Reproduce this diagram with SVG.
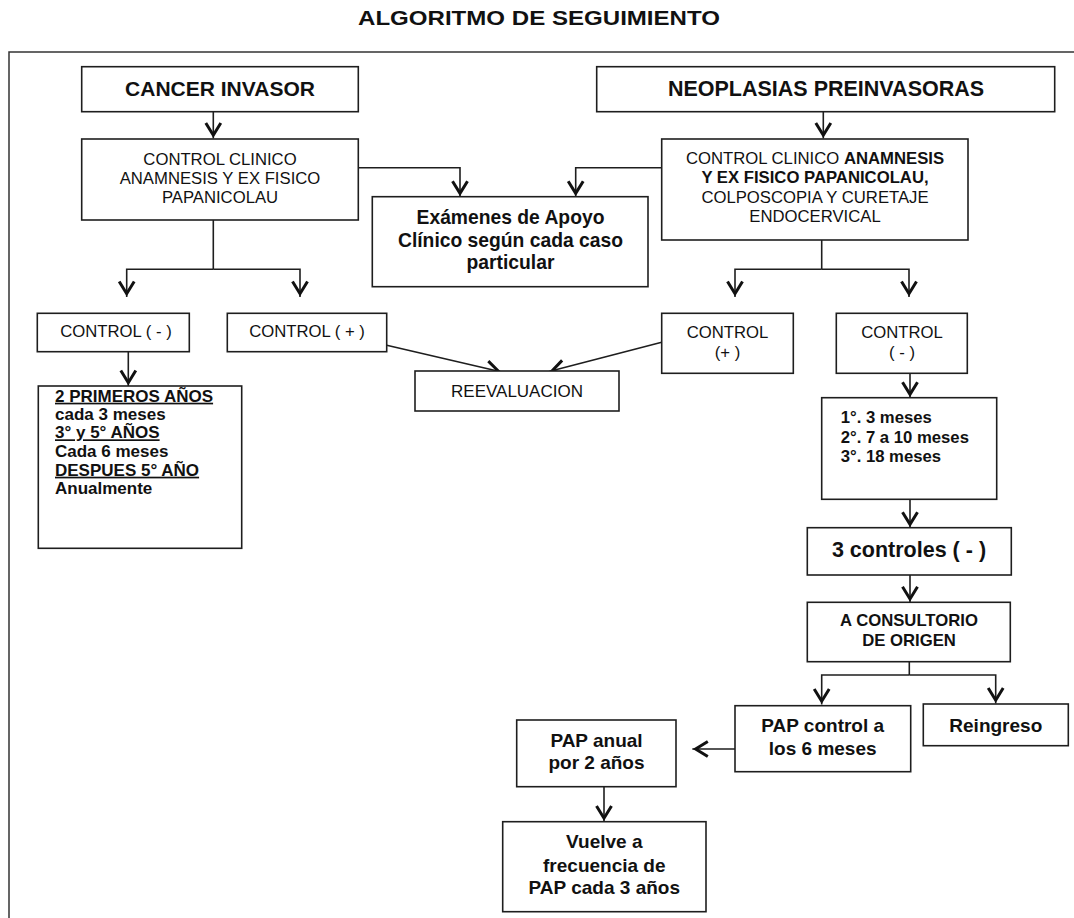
<svg xmlns="http://www.w3.org/2000/svg" width="1074" height="918" viewBox="0 0 1074 918">
<style>
text{font-family:"Liberation Sans",Arial,sans-serif;fill:#111;}
.c{text-anchor:middle;}
.b{font-weight:bold;}
.box{fill:#fff;stroke:#1e1e1e;stroke-width:1.6;}
.ln{fill:none;stroke:#1e1e1e;stroke-width:1.6;}
.ar{marker-end:url(#ah);}
.u{text-decoration:underline;}
</style>
<defs>
<marker id="ah" markerUnits="userSpaceOnUse" viewBox="-20 -10 22 20" refX="0" refY="0" markerWidth="22" markerHeight="20" orient="auto">
<path d="M-15.5,-7.5 L-3.3,0 L-15.5,7.5" fill="none" stroke="#111" stroke-width="3" stroke-linejoin="miter" stroke-miterlimit="10"/>
</marker>
</defs>
<rect width="1074" height="918" fill="#fff"/>
<text id="title" x="539" y="24.5" class="c b" font-size="20.5" textLength="362" lengthAdjust="spacingAndGlyphs">ALGORITMO DE SEGUIMIENTO</text>
<path id="frame" d="M9,918 V52 H1074" fill="none" stroke="#333" stroke-width="1.5"/>

<g id="connectors">
<path class="ln ar" d="M213.3,111.7 V138.5"/>
<path class="ln ar" d="M823.3,111.7 V138.5"/>
<path class="ln ar" d="M358.3,167.7 H460 V196.7"/>
<path class="ln ar" d="M661.7,167.7 H575.7 V196.7"/>
<path class="ln" d="M213.3,220 V269.3"/>
<path class="ln ar" d="M213.3,269.3 H126.7 V297"/>
<path class="ln ar" d="M213.3,269.3 H300 V297"/>
<path class="ln" d="M821.7,240 V269.3"/>
<path class="ln ar" d="M821.7,269.3 H735 V297"/>
<path class="ln ar" d="M821.7,269.3 H909 V297"/>
<path class="ln ar" d="M371.7,341.7 L501.7,372"/>
<path class="ln ar" d="M661.7,342.3 L549,371.5"/>
<path class="ln ar" d="M128.3,351.7 V386"/>
<path class="ln ar" d="M910,373.3 V397.7"/>
<path class="ln ar" d="M910,499.3 V527.7"/>
<path class="ln ar" d="M910,575 V602.3"/>
<path class="ln" d="M909.3,661.7 V675"/>
<path class="ln ar" d="M909.3,675 H821.7 V704.5"/>
<path class="ln ar" d="M909.3,675 H995.7 V703.5"/>
<path class="ln ar" d="M735,749 H692.3"/>
<path class="ln ar" d="M604,786.7 V821.5"/>
</g>

<g id="cancer-invasor">
<rect class="box" x="81.7" y="66.7" width="276.6" height="45"/>
<text x="220" y="96" class="c b" font-size="21">CANCER INVASOR</text>
</g>

<g id="neoplasias">
<rect class="box" x="596.7" y="66.7" width="458" height="45"/>
<text x="826" y="96" class="c b" font-size="21.5">NEOPLASIAS PREINVASORAS</text>
</g>

<g id="control-clinico-izq">
<rect class="box" x="81.7" y="139" width="276.6" height="81"/>
<text x="220" y="165" class="c" font-size="16.7">CONTROL CLINICO</text>
<text x="220" y="184" class="c" font-size="16.7">ANAMNESIS Y EX FISICO</text>
<text x="220" y="203.3" class="c" font-size="16.7">PAPANICOLAU</text>
</g>

<g id="control-clinico-der">
<rect class="box" x="661.7" y="139" width="306.3" height="101"/>
<text x="815" y="164" class="c" font-size="16.7">CONTROL CLINICO <tspan class="b">ANAMNESIS</tspan></text>
<text x="815" y="183.3" class="c b" font-size="16.7">Y EX FISICO PAPANICOLAU,</text>
<text x="815" y="203.3" class="c" font-size="16.7">COLPOSCOPIA Y CURETAJE</text>
<text x="815" y="221.7" class="c" font-size="16.7">ENDOCERVICAL</text>
</g>

<g id="examenes">
<rect class="box" x="372.3" y="196.7" width="275.7" height="90"/>
<text x="510.5" y="224" class="c b" font-size="19.3">Exámenes de Apoyo</text>
<text x="510.5" y="246.5" class="c b" font-size="19.3">Clínico según cada caso</text>
<text x="510.5" y="269" class="c b" font-size="19.3">particular</text>
</g>

<g id="control-neg-izq">
<rect class="box" x="37.3" y="313.3" width="152" height="38.4"/>
<text x="116" y="337.3" class="c" font-size="16.7">CONTROL ( - )</text>
</g>

<g id="control-pos-izq">
<rect class="box" x="227.3" y="313.3" width="159.4" height="38.4"/>
<text x="307" y="337.3" class="c" font-size="16.7">CONTROL ( + )</text>
</g>

<g id="reevaluacion">
<rect class="box" x="415" y="371" width="204" height="40"/>
<text x="517" y="397" class="c" font-size="17">REEVALUACION</text>
</g>

<g id="control-pos-der">
<rect class="box" x="661.7" y="313.3" width="131.6" height="60"/>
<text x="727.5" y="338.3" class="c" font-size="16.7">CONTROL</text>
<text x="727.5" y="358.3" class="c" font-size="16.7">(+ )</text>
</g>

<g id="control-neg-der">
<rect class="box" x="836.3" y="313.3" width="131" height="60"/>
<text x="902" y="338.3" class="c" font-size="16.7">CONTROL</text>
<text x="902" y="358.3" class="c" font-size="16.7">( - )</text>
</g>

<g id="frecuencia-invasor">
<rect class="box" x="38.3" y="386" width="203.4" height="162.3"/>
<text x="55" y="401.7" class="b u" font-size="17">2 PRIMEROS AÑOS</text>
<text x="55" y="420" class="b" font-size="17">cada 3 meses</text>
<text x="55" y="438.3" class="b u" font-size="17">3° y 5° AÑOS</text>
<text x="55" y="457.3" class="b" font-size="17">Cada 6 meses</text>
<text x="55" y="475.7" class="b u" font-size="17">DESPUES 5° AÑO</text>
<text x="55" y="494" class="b" font-size="17">Anualmente</text>
</g>

<g id="frecuencia-preinvasor">
<rect class="box" x="821.7" y="397.7" width="175" height="101.6"/>
<text x="840.7" y="423.3" class="b" font-size="16.7">1°. 3 meses</text>
<text x="840.7" y="442.7" class="b" font-size="16.7">2°. 7 a 10 meses</text>
<text x="840.7" y="461.7" class="b" font-size="16.7">3°. 18 meses</text>
</g>

<g id="tres-controles">
<rect class="box" x="807.3" y="527.7" width="204" height="47.3"/>
<text x="909" y="557.3" class="c b" font-size="21.5">3 controles ( - )</text>
</g>

<g id="consultorio">
<rect class="box" x="807.3" y="602.3" width="203" height="59.4"/>
<text x="909" y="626" class="c b" font-size="16.7">A CONSULTORIO</text>
<text x="909" y="646" class="c b" font-size="16.7">DE ORIGEN</text>
</g>

<g id="pap-control">
<rect class="box" x="735" y="705.7" width="175.7" height="66"/>
<text x="822.7" y="731.7" class="c b" font-size="19">PAP control a</text>
<text x="822.7" y="755" class="c b" font-size="19">los 6 meses</text>
</g>

<g id="reingreso">
<rect class="box" x="923.3" y="704" width="145" height="41.7"/>
<text x="995.8" y="731.7" class="c b" font-size="19">Reingreso</text>
</g>

<g id="pap-anual">
<rect class="box" x="516.7" y="720" width="159.3" height="66.7"/>
<text x="596.5" y="746.7" class="c b" font-size="19">PAP anual</text>
<text x="596.5" y="769.3" class="c b" font-size="19">por 2 años</text>
</g>

<g id="vuelve">
<rect class="box" x="502.7" y="821.7" width="203.3" height="90"/>
<text x="604.3" y="848.3" class="c b" font-size="19">Vuelve a</text>
<text x="604.3" y="871.7" class="c b" font-size="19">frecuencia de</text>
<text x="604.3" y="894.3" class="c b" font-size="19">PAP cada 3 años</text>
</g>
</svg>
